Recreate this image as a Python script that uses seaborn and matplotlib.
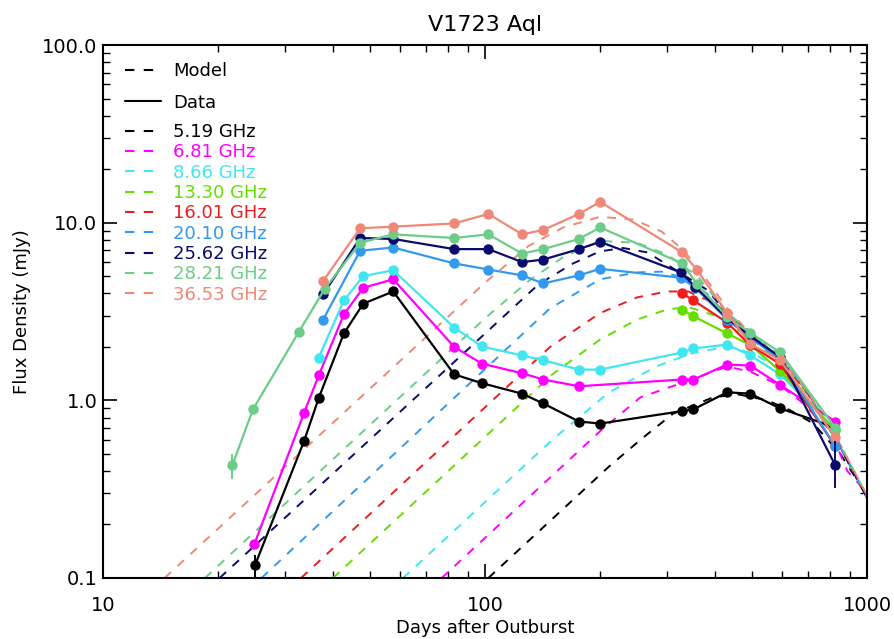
import matplotlib
matplotlib.use('Agg')
import matplotlib.pyplot as plt
import seaborn as sns
import pandas as pd
from matplotlib.lines import Line2D

# Bands and their colours
bands = ['5.19 GHz', '6.81 GHz', '8.66 GHz', '13.30 GHz', '16.01 GHz',
         '20.10 GHz', '25.62 GHz', '28.21 GHz', '36.53 GHz']
colors = ['#000000', '#ff00ff', '#40e6f0', '#66dd00', '#ee1c1c',
          '#3399ee', '#0b0b6e', '#6ccc8a', '#f08878']

# Observed flux densities (days after outburst, mJy)
days_519 = [25.0, 33.6, 36.7, 42.7, 48.0, 57.5, 83, 98, 125, 142, 176, 200, 328, 351, 430, 494, 592, 815]
flux_519 = [0.118, 0.59, 1.03, 2.38, 3.5, 4.1, 1.40, 1.25, 1.09, 0.96, 0.76, 0.74, 0.87, 0.89, 1.11, 1.09, 0.90, 0.71]
days_681 = [24.9, 33.6, 36.7, 42.7, 48.0, 57.5, 83, 98, 125, 142, 176, 328, 351, 430, 494, 592, 825]
flux_681 = [0.155, 0.85, 1.38, 3.05, 4.3, 4.8, 2.0, 1.61, 1.42, 1.31, 1.2, 1.31, 1.31, 1.59, 1.57, 1.22, 0.76]
days_866 = [36.7, 42.7, 48.0, 57.5, 83, 98, 125, 142, 176, 200, 328, 351, 430, 494, 592, 825]
flux_866 = [1.74, 3.65, 5.0, 5.4, 2.57, 2.01, 1.79, 1.68, 1.49, 1.49, 1.86, 1.96, 2.06, 1.79, 1.40, 0.68]
days_1330 = [328, 351, 430, 494, 592, 825]
flux_1330 = [3.24, 2.97, 2.38, 2.05, 1.46, 0.68]
days_1601 = [328, 351, 430, 494, 592, 825]
flux_1601 = [4.0, 3.65, 2.74, 2.04, 1.6, 0.55]
days_2010 = [37.7, 47.1, 57.5, 83, 102, 125, 142, 176, 200, 325, 355, 430, 494, 592, 825]
flux_2010 = [2.85, 6.95, 7.25, 5.9, 5.45, 5.05, 4.55, 5.05, 5.5, 4.9, 4.3, 2.85, 2.25, 1.7, 0.55]
days_2562 = [37.7, 47.1, 57.5, 83, 102, 125, 142, 176, 200, 325, 355, 430, 494, 592, 825]
flux_2562 = [3.95, 8.2, 8.1, 7.1, 7.1, 6.0, 6.2, 7.1, 7.8, 5.25, 4.35, 2.9, 2.3, 1.75, 0.43]
days_2821 = [21.8, 24.7, 32.6, 38.1, 47.1, 57.5, 83, 102, 125, 142, 176, 200, 328, 359, 430, 494, 592, 825]
flux_2821 = [0.43, 0.89, 2.44, 4.26, 7.7, 8.6, 8.2, 8.6, 6.7, 7.1, 8.1, 9.4, 5.9, 4.5, 2.95, 2.4, 1.86, 0.70]
days_3653 = [37.7, 47.1, 57.5, 83, 102, 125, 142, 176, 200, 328, 359, 430, 494, 592, 825]
flux_3653 = [4.7, 9.3, 9.5, 9.9, 11.2, 8.6, 9.1, 11.2, 13.1, 6.8, 5.4, 3.1, 2.08, 1.68, 0.62]

# Error bars shown on a few points
err_band = ['28.21 GHz', '5.19 GHz', '25.62 GHz']
err_day = [21.8, 25.0, 825]
err_flux = [0.43, 0.118, 0.43]
err_lo = [0.36, 0.10, 0.32]
err_hi = [0.50, 0.135, 0.59]

# Model light curves
mday_519 = [102, 210, 255, 310, 395, 460, 547, 628, 723, 850, 1000]
mflux_519 = [0.1, 0.42, 0.60, 0.84, 1.04, 1.08, 1.0, 0.88, 0.74, 0.50, 0.29]
mday_681 = [77, 200, 255, 330, 430, 494, 592, 665, 800, 887, 1000]
mflux_681 = [0.1, 0.67, 1.04, 1.26, 1.55, 1.45, 1.21, 1.0, 0.68, 0.40, 0.30]
mday_866 = [61, 150, 210, 280, 350, 430, 500, 590, 700, 830, 1000]
mflux_866 = [0.1, 0.60, 1.1, 1.55, 1.85, 2.0, 1.85, 1.5, 1.02, 0.6, 0.29]
mday_1330 = [40, 150, 200, 250, 300, 340, 400, 450, 500, 600, 700, 830, 1000]
mflux_1330 = [0.1, 1.4, 2.2, 2.85, 3.25, 3.35, 3.0, 2.55, 2.2, 1.6, 1.08, 0.6, 0.28]
mday_1601 = [33, 148, 200, 250, 300, 340, 400, 450, 500, 600, 700, 830, 1000]
mflux_1601 = [0.1, 2.0, 3.1, 3.8, 4.1, 4.1, 3.5, 2.85, 2.3, 1.65, 1.08, 0.6, 0.28]
mday_2010 = [26, 148, 200, 250, 290, 330, 380, 430, 500, 600, 700, 830, 1000]
mflux_2010 = [0.1, 3.3, 4.8, 5.25, 5.3, 4.9, 4.0, 3.0, 2.3, 1.7, 1.1, 0.6, 0.28]
mday_2562 = [20.2, 138, 170, 200, 230, 266, 325, 380, 430, 500, 600, 700, 830, 1000]
mflux_2562 = [0.1, 4.5, 5.9, 6.9, 7.2, 6.8, 5.2, 4.2, 3.1, 2.3, 1.7, 1.1, 0.6, 0.28]
mday_2821 = [18.5, 100, 130, 160, 200, 250, 300, 360, 430, 500, 600, 700, 830, 1000]
mflux_2821 = [0.1, 2.9, 4.7, 6.4, 7.9, 7.7, 6.6, 5.0, 3.1, 2.4, 1.75, 1.12, 0.62, 0.29]
mday_3653 = [14.5, 100, 130, 160, 200, 245, 290, 330, 360, 430, 500, 600, 700, 830, 1000]
mflux_3653 = [0.1, 4.6, 7.4, 9.4, 10.8, 10.4, 8.9, 7.0, 5.6, 3.3, 2.3, 1.7, 1.1, 0.62, 0.29]

obs = [(days_519, flux_519), (days_681, flux_681), (days_866, flux_866),
       (days_1330, flux_1330), (days_1601, flux_1601), (days_2010, flux_2010),
       (days_2562, flux_2562), (days_2821, flux_2821), (days_3653, flux_3653)]
mod = [(mday_519, mflux_519), (mday_681, mflux_681), (mday_866, mflux_866),
       (mday_1330, mflux_1330), (mday_1601, mflux_1601), (mday_2010, mflux_2010),
       (mday_2562, mflux_2562), (mday_2821, mflux_2821), (mday_3653, mflux_3653)]

df_obs = pd.concat([pd.DataFrame({'day': d, 'flux': f, 'band': b})
                    for b, (d, f) in zip(bands, obs)], ignore_index=True)
df_mod = pd.concat([pd.DataFrame({'day': d, 'flux': f, 'band': b})
                    for b, (d, f) in zip(bands, mod)], ignore_index=True)
palette = dict(zip(bands, colors))

sns.set_style('ticks')
plt.rcParams['font.family'] = ['DejaVu Sans']
plt.rcParams.update({'text.color': 'black', 'axes.labelcolor': 'black',
                     'xtick.color': 'black', 'ytick.color': 'black',
                     'axes.edgecolor': 'black'})

fig = plt.figure(figsize=(8.95, 6.39), dpi=100)
ax = fig.add_axes([0.115, 0.0955, 0.854, 0.834])

# Models (dashed) then data (solid with dots)
sns.lineplot(data=df_mod, x='day', y='flux', hue='band', palette=palette,
             estimator=None, sort=False, legend=False, linewidth=1.4,
             linestyle=(0, (4.5, 4.5)), ax=ax)
sns.lineplot(data=df_obs, x='day', y='flux', hue='band', palette=palette,
             estimator=None, sort=False, legend=False, linewidth=1.6,
             marker='o', markersize=7.5, markeredgewidth=0, ax=ax)

for b, d, f, lo, hi in zip(err_band, err_day, err_flux, err_lo, err_hi):
    ax.errorbar([d], [f], yerr=[[f - lo], [hi - f]], fmt='none',
                ecolor=palette[b], elinewidth=1.4, capsize=0)

ax.set_xscale('log')
ax.set_yscale('log')
ax.set_xlim(10, 1000)
ax.set_ylim(0.1, 100)
ax.set_xticks([10, 100, 1000], ['10', '100', '1000'])
ax.set_yticks([0.1, 1, 10, 100], ['0.1', '1.0', '10.0', '100.0'])
ax.tick_params(which='both', direction='in', top=True, right=True, labelsize=14,
               colors='black')
ax.tick_params(which='major', length=10, width=1.2)
ax.tick_params(which='minor', length=5, width=1.0)
ax.tick_params(axis='x', which='major', pad=13)
ax.tick_params(axis='y', which='major', pad=4)
for s in ax.spines.values():
    s.set_linewidth(1.5)
    s.set_color('black')

ax.set_title('V1723 Aql', fontsize=16, pad=10, color='black')
ax.set_xlabel('Days after Outburst', fontsize=13, labelpad=3)
ax.set_ylabel('Flux Density (mJy)', fontsize=13, labelpad=8)

# Legends
kind_handles = [Line2D([], [], color='black', lw=1.5, ls=(0, (4.5, 4.5))),
                Line2D([], [], color='black', lw=1.5)]
leg1 = ax.legend(kind_handles, ['Model', 'Data'], loc='upper left',
                 bbox_to_anchor=(0.029, 0.968), frameon=False, fontsize=13,
                 handlelength=2.0, handletextpad=0.65, labelspacing=0.75,
                 borderaxespad=0, borderpad=0)
ax.add_artist(leg1)
band_handles = [Line2D([], [], color=c, lw=1.5, ls=(0, (4.5, 4.5))) for c in colors]
ax.legend(band_handles, bands, loc='upper left', bbox_to_anchor=(0.029, 0.854),
          frameon=False, fontsize=13, handlelength=2.0, handletextpad=0.65,
          labelspacing=0.13, borderaxespad=0, borderpad=0, labelcolor='linecolor')

fig.savefig('out.png', dpi=100)
